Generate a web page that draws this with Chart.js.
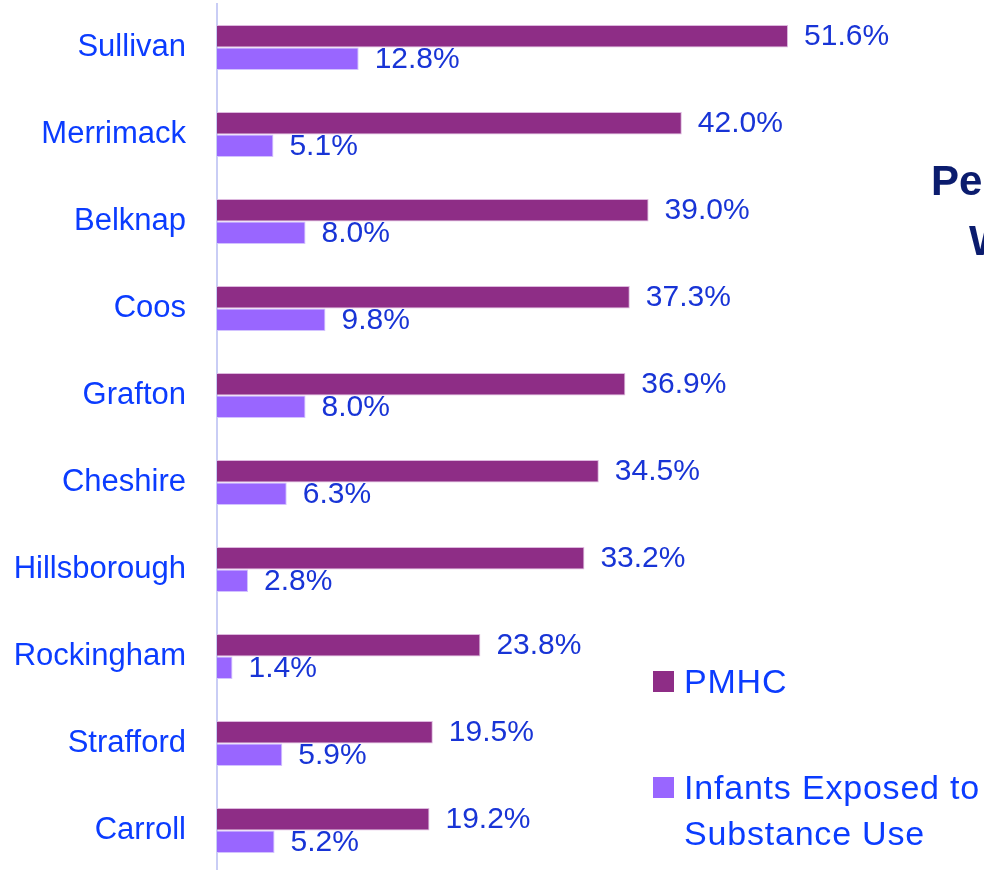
<!DOCTYPE html>
<html>
<head>
<meta charset="utf-8">
<script src="https://cdn.jsdelivr.net/npm/chart.js@4/dist/chart.umd.min.js"></script>
<style>
    html, body { margin: 0; padding: 0; width: 984px; height: 870px; overflow: hidden; background: #fff; }
    #wrap { position: absolute; left: 0; top: 0; width: 984px; height: 880px; }
    .title { position: absolute; font-family: 'Liberation Sans', Arial, sans-serif; font-weight: bold; font-size: 42px; color: #0B1C6E; white-space: nowrap; }
    #legend { position: absolute; left: 653px; top: 0; font-family: 'Liberation Sans', Arial, sans-serif; font-size: 34px; letter-spacing: 0.8px; color: #0B3CFF; }
    .item { position: absolute; left: 0; white-space: nowrap; }
    .box { position: absolute; left: 0; width: 21px; height: 21px; }
    .txt { position: absolute; left: 31px; line-height: 46px; }
</style>
</head>
<body>
<div id="wrap"><canvas id="chart" width="984" height="880"></canvas></div>
<div class="title" style="left:931px; top:157px;">Percent of Births</div>
<div class="title" style="left:969px; top:217px;">With PMHC</div>
<div id="legend"></div>
<script>
const counties = [
    'Sullivan',
    'Merrimack',
    'Belknap',
    'Coos',
    'Grafton',
    'Cheshire',
    'Hillsborough',
    'Rockingham',
    'Strafford',
    'Carroll',
];

const pmhc = [51.6, 42.0, 39.0, 37.3, 36.9, 34.5, 33.2, 23.8, 19.5, 19.2];
const infants = [12.8, 5.1, 8.0, 9.8, 8.0, 6.3, 2.8, 1.4, 5.9, 5.2];

const seriesNames = ['PMHC', 'Infants Exposed to Substance Use'];
const seriesColors = ['#8E2D86', '#9966FF'];
const seriesBorders = ['#DDB8DE', '#D2C2FF'];

const labelFont = "'Liberation Sans', Arial, sans-serif";

// value labels to the right of each bar
const valueLabels = {
    id: 'valueLabels',
    afterDatasetsDraw(chart) {
        const ctx = chart.ctx;
        ctx.save();
        ctx.font = '30px ' + labelFont;
        ctx.fillStyle = '#1834D6';
        ctx.textAlign = 'left';
        ctx.textBaseline = 'middle';
        chart.data.datasets.forEach((ds, i) => {
            const meta = chart.getDatasetMeta(i);
            meta.data.forEach((bar, j) => {
                ctx.fillText(ds.data[j].toFixed(1) + '%', bar.x + 16, bar.y + 1);
            });
        });
        ctx.restore();
    }
};

const data = {
    labels: counties,
    datasets: [
        {
            label: seriesNames[0],
            data: pmhc,
            backgroundColor: seriesColors[0],
            borderColor: seriesBorders[0],
            borderWidth: 1,
        },
        {
            label: seriesNames[1],
            data: infants,
            backgroundColor: seriesColors[1],
            borderColor: seriesBorders[1],
            borderWidth: 1,
        }
    ]
};

const options = {
    indexAxis: 'y',
    responsive: false,
    animation: false,
    layout: {
        padding: { top: 4, bottom: 6, right: 103 }
    },
    datasets: {
        bar: {
            categoryPercentage: 0.52,
            barPercentage: 1.0,
        }
    },
    scales: {
        x: {
            display: false,
            min: 0,
            max: 60,
        },
        y: {
            grid: { display: false },
            border: { display: true, color: '#C9CDF5', width: 2 },
            ticks: {
                color: '#0B3CFF',
                font: { family: labelFont, size: 31 },
                padding: 23,
            },
            afterFit(scale) {
                scale.width = 217;
                scale.paddingTop = 0;
                scale.paddingBottom = 0;
            }
        }
    },
    plugins: {
        legend: { display: false },
        tooltip: { enabled: false },
    }
};

const chart = new Chart(document.getElementById('chart'), {
    type: 'bar',
    data: data,
    options: options,
    plugins: [valueLabels]
});

// legend at the lower right, built from the datasets
const legendBox = document.getElementById('legend');
const legendTops = [671, 777];
const legendLines = [['PMHC'], ['Infants Exposed to', 'Substance Use']];
data.datasets.forEach((ds, i) => {
    const item = document.createElement('div');
    item.className = 'item';
    item.style.top = legendTops[i] + 'px';
    const box = document.createElement('div');
    box.className = 'box';
    box.style.background = ds.backgroundColor;
    const txt = document.createElement('div');
    txt.className = 'txt';
    txt.style.top = '-13px';
    txt.innerHTML = legendLines[i].join('<br>');
    item.appendChild(box);
    item.appendChild(txt);
    legendBox.appendChild(item);
});
</script>
</body>
</html>
